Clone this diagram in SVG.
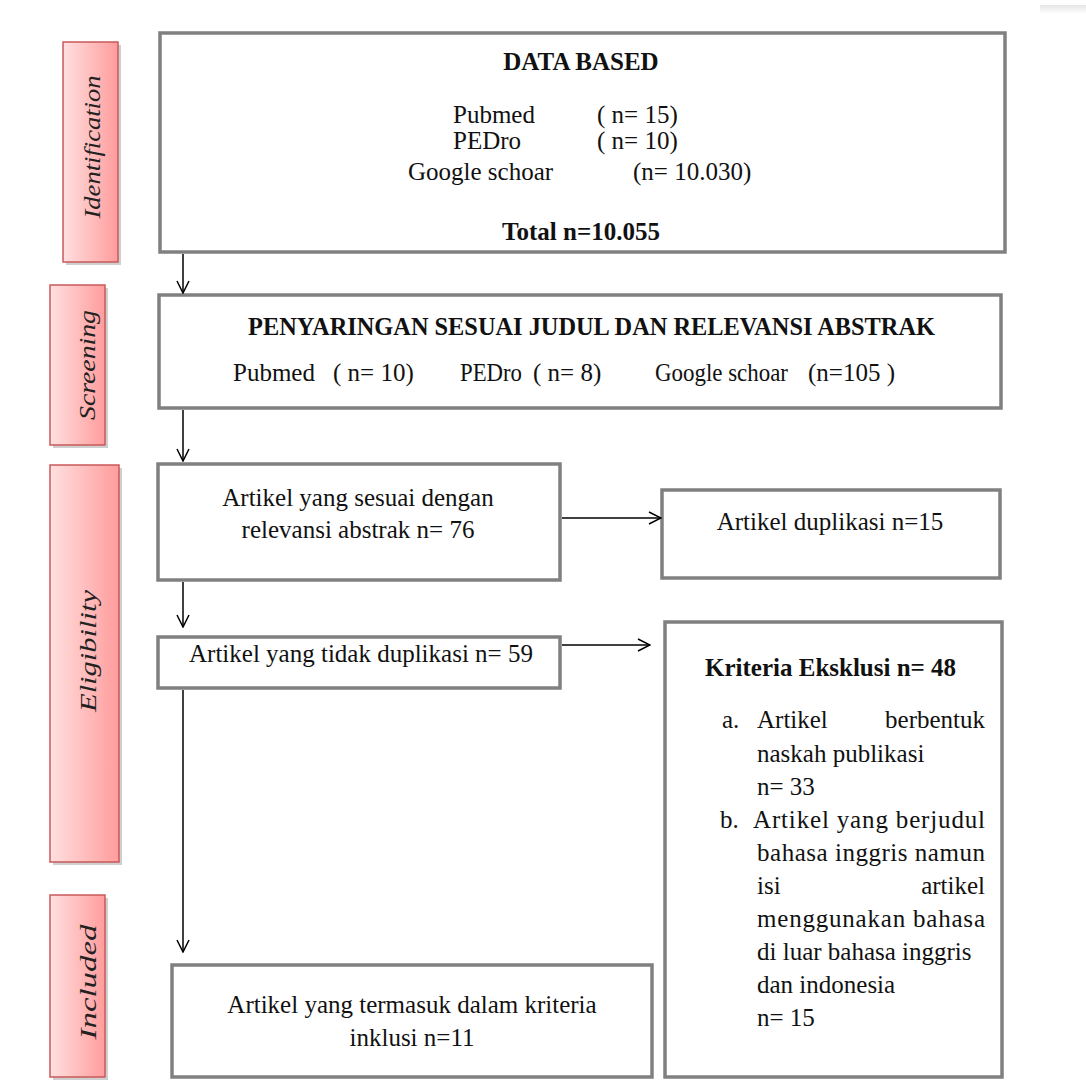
<svg xmlns="http://www.w3.org/2000/svg" width="1086" height="1083" viewBox="0 0 1086 1083">
<defs>
<linearGradient id="pink" x1="0" y1="0" x2="1" y2="0">
<stop offset="0" stop-color="#ffe0e0"/>
<stop offset="1" stop-color="#ff9c9c"/>
</linearGradient>
<linearGradient id="fade" x1="0" y1="0" x2="0" y2="1">
<stop offset="0" stop-color="#e6e6e6"/>
<stop offset="1" stop-color="#ffffff"/>
</linearGradient>
<marker id="arr" viewBox="0 0 14 14" refX="13" refY="7" markerWidth="14" markerHeight="14" markerUnits="userSpaceOnUse" orient="auto">
<path d="M1,1 L13,7 L1,13" fill="none" stroke="#000" stroke-width="1.5"/>
</marker>
</defs>
<style>
.box{fill:#fff;stroke:#808080;stroke-width:3.5}
.lab{fill:url(#pink);stroke:#c9585a;stroke-width:1.5}
.sh{fill:#cfcfcf}
.lt{font-family:"Liberation Serif","Times New Roman",serif;font-style:italic;font-size:24px;fill:#222}
.t{font-family:"Liberation Serif","Times New Roman",serif;font-size:25px;fill:#111}
.b{font-family:"Liberation Serif","Times New Roman",serif;font-size:25px;font-weight:bold;fill:#111}
.c{text-anchor:middle}
.con{stroke:#000;stroke-width:1.5;fill:none}
</style>
<rect width="1086" height="1083" fill="#fff"/>
<rect x="1040" y="5" width="46" height="9" fill="url(#fade)"/>

<g id="label-identification">
<rect class="sh" x="66" y="45" width="55" height="220"/>
<rect class="lab" x="63" y="42" width="55" height="220"/>
<text class="lt c" transform="translate(100,147) rotate(-90)" textLength="143" lengthAdjust="spacingAndGlyphs">Identification</text>
</g>
<g id="label-screening">
<rect class="sh" x="53" y="288" width="55" height="160"/>
<rect class="lab" x="50" y="285" width="55" height="160"/>
<text class="lt c" transform="translate(95,365) rotate(-90)" textLength="110" lengthAdjust="spacingAndGlyphs">Screening</text>
</g>
<g id="label-eligibility">
<rect class="sh" x="53" y="468" width="69" height="397"/>
<rect class="lab" x="50" y="465" width="69" height="397"/>
<text class="lt c" transform="translate(96,651) rotate(-90)" textLength="122" lengthAdjust="spacingAndGlyphs">Eligibility</text>
</g>
<g id="label-included">
<rect class="sh" x="53" y="898" width="55" height="182"/>
<rect class="lab" x="50" y="895" width="55" height="182"/>
<text class="lt c" transform="translate(96,982) rotate(-90)" textLength="115" lengthAdjust="spacingAndGlyphs">Included</text>
</g>

<g id="node-databased">
<rect class="box" x="160" y="33" width="845" height="219"/>
<text class="b c" x="581" y="70" font-size="26">DATA BASED</text>
<text class="t" x="453" y="123">Pubmed</text>
<text class="t" x="597" y="123">( n= 15)</text>
<text class="t" x="453" y="149">PEDro</text>
<text class="t" x="597" y="149">( n= 10)</text>
<text class="t" x="408" y="180">Google schoar</text>
<text class="t" x="633" y="180">(n= 10.030)</text>
<text class="b c" x="581" y="240" font-size="26">Total n=10.055</text>
</g>

<g id="node-screening">
<rect class="box" x="159" y="295" width="842" height="113"/>
<text class="b" x="248" y="335" font-size="21" textLength="687" lengthAdjust="spacingAndGlyphs">PENYARINGAN SESUAI JUDUL DAN RELEVANSI ABSTRAK</text>
<text class="t" x="233" y="381">Pubmed</text>
<text class="t" x="333" y="381">( n= 10)</text>
<text class="t" x="460" y="381" textLength="62" lengthAdjust="spacingAndGlyphs">PEDro</text>
<text class="t" x="533" y="381">( n= 8)</text>
<text class="t" x="655" y="381" textLength="133" lengthAdjust="spacingAndGlyphs">Google schoar</text>
<text class="t" x="808" y="381">(n=105 )</text>
</g>

<g id="node-sesuai">
<rect class="box" x="158" y="464" width="402" height="116"/>
<text class="t c" x="358" y="506">Artikel yang sesuai dengan</text>
<text class="t c" x="358" y="538">relevansi abstrak  n= 76</text>
</g>

<g id="node-duplikasi">
<rect class="box" x="662" y="490" width="338" height="88"/>
<text class="t c" x="830" y="530">Artikel duplikasi n=15</text>
</g>

<g id="node-tidakdup">
<rect class="box" x="158" y="637" width="402" height="51"/>
<text class="t c" x="361" y="662">Artikel yang tidak duplikasi n= 59</text>
</g>

<g id="node-eksklusi">
<rect class="box" x="665" y="622" width="337" height="455"/>
<text class="b" x="705" y="676" font-size="26">Kriteria Eksklusi n= 48</text>
<text class="t" x="722" y="728">a.</text>
<text class="t" x="757" y="728">Artikel</text>
<text class="t" x="985" y="728" text-anchor="end">berbentuk</text>
<text class="t" x="757" y="762">naskah publikasi</text>
<text class="t" x="757" y="795">n= 33</text>
<text class="t" x="720" y="828">b.</text>
<text class="t" x="753" y="828" textLength="232">Artikel yang berjudul</text>
<text class="t" x="757" y="861" textLength="228">bahasa inggris namun</text>
<text class="t" x="757" y="894">isi</text>
<text class="t" x="985" y="894" text-anchor="end">artikel</text>
<text class="t" x="757" y="927" textLength="228">menggunakan bahasa</text>
<text class="t" x="757" y="960">di luar bahasa inggris</text>
<text class="t" x="757" y="993">dan indonesia</text>
<text class="t" x="757" y="1026">n= 15</text>
</g>

<g id="node-included">
<rect class="box" x="172" y="965" width="480" height="112"/>
<text class="t c" x="412" y="1013">Artikel yang termasuk dalam kriteria</text>
<text class="t c" x="412" y="1046">inklusi n=11</text>
</g>

<g id="connectors">
<line class="con" x1="183" y1="254" x2="183" y2="293" marker-end="url(#arr)"/>
<line class="con" x1="183" y1="410" x2="183" y2="461" marker-end="url(#arr)"/>
<line class="con" x1="562" y1="518" x2="661" y2="518" marker-end="url(#arr)"/>
<line class="con" x1="183" y1="582" x2="183" y2="627" marker-end="url(#arr)"/>
<line class="con" x1="562" y1="645" x2="650" y2="645" marker-end="url(#arr)"/>
<line class="con" x1="183" y1="690" x2="183" y2="952" marker-end="url(#arr)"/>
</g>
</svg>
